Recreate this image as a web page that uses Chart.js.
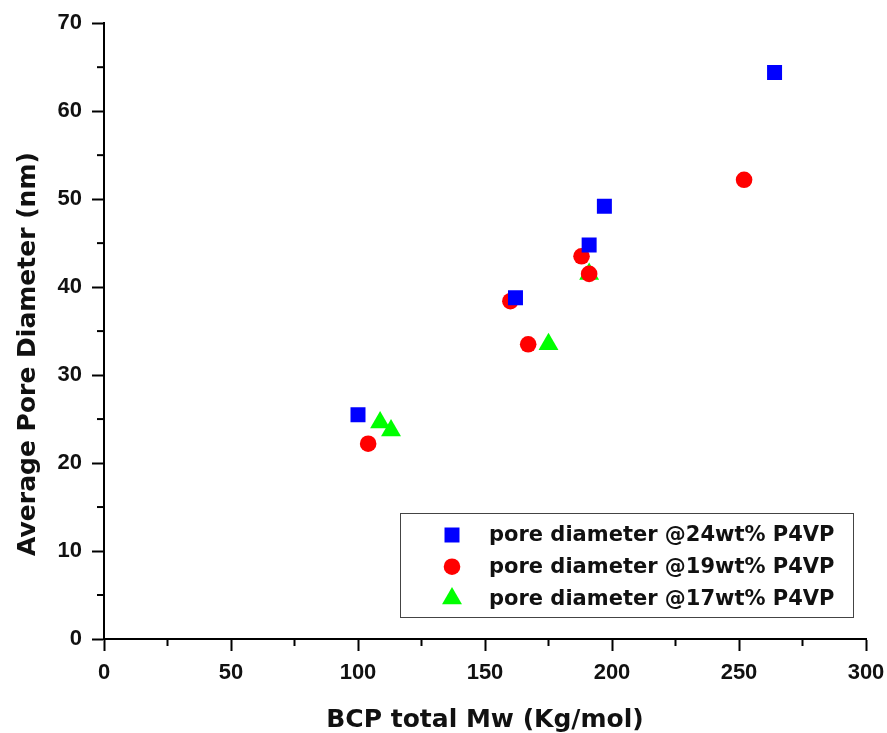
<!DOCTYPE html>
<html>
<head>
<meta charset="UTF-8">
<title>Average pore diameter vs BCP total Mw</title>
<script src="https://cdn.jsdelivr.net/npm/chart.js"></script>
<style>
  body { margin: 0; background: #fff; }
</style>
</head>
<body>
<canvas id="myChart" width="887" height="733"></canvas>
<script>
// data
var labels = ['pore diameter @24wt% P4VP', 'pore diameter @19wt% P4VP', 'pore diameter @17wt% P4VP'];
var mw24 = [100, 162, 191, 197, 264];
var pore24 = [25.5, 38.8, 44.8, 49.2, 64.4];
var mw19 = [104, 160, 167, 188, 191, 252];
var pore19 = [22.2, 38.4, 33.5, 43.5, 41.5, 52.2];
var mw17 = [108.7, 113, 175, 191];
var pore17 = [24.6, 23.7, 33.5, 41.5];
var xMinorTicks = [25, 75, 125, 175, 225, 275];
var yMinorTicks = [5, 15, 25, 35, 45, 55, 65];
var yTitle = 'Average Pore Diameter (nm)';

function toPoints(xs, ys) {
    var pts = [];
    for (let i = 0; i < xs.length; i++) pts.push({x: xs[i], y: ys[i]});
    return pts;
}

var tickFont = '"Liberation Sans", Arial, sans-serif';
var wideFont = '"DejaVu Sans", Verdana, sans-serif';

// minor ticks, y title and legend box inside the plot
var extras = {
    id: 'extras',
    afterDraw(chart) {
        let ctx = chart.ctx;
        let xs = chart.scales.x, ys = chart.scales.y;
        ctx.save();
        ctx.strokeStyle = '#000';
        ctx.lineWidth = 2;
        xMinorTicks.forEach(function(v) {
            let px = xs.getPixelForValue(v);
            ctx.beginPath();
            ctx.moveTo(px, ys.bottom);
            ctx.lineTo(px, ys.bottom + 7);
            ctx.stroke();
        });
        yMinorTicks.forEach(function(v) {
            let py = ys.getPixelForValue(v);
            ctx.beginPath();
            ctx.moveTo(xs.left, py);
            ctx.lineTo(xs.left - 7, py);
            ctx.stroke();
        });

        // y title (sits a bit below the axis middle in the original)
        ctx.save();
        ctx.translate(35, 354);
        ctx.rotate(-Math.PI / 2);
        ctx.font = 'bold 25px ' + wideFont;
        ctx.fillStyle = '#111';
        ctx.textAlign = 'center';
        ctx.textBaseline = 'alphabetic';
        ctx.fillText(yTitle, 0, 0);
        ctx.restore();

        // legend
        let bx = 400, by = 513, bw = 453, bh = 104;
        ctx.lineWidth = 1;
        ctx.strokeStyle = '#444';
        ctx.strokeRect(bx + 0.5, by + 0.5, bw, bh);
        ctx.font = 'bold 21px ' + wideFont;
        ctx.textBaseline = 'middle';
        ctx.fillStyle = '#111';
        chart.data.datasets.forEach(function(ds, i) {
            let cy = 535 + i * 31.7;
            ctx.save();
            ctx.fillStyle = ds.backgroundColor;
            ctx.strokeStyle = ds.backgroundColor;
            ctx.lineWidth = 0.01;
            Chart.helpers.drawPoint(ctx, {pointStyle: ds.pointStyle, radius: ds.pointRadius, rotation: 0, borderWidth: 0}, 452, cy);
            ctx.restore();
            ctx.fillText(ds.label, 489, cy + 1);
        });
        ctx.restore();
    }
};

var ctx = document.getElementById('myChart').getContext('2d');
var chart = new Chart(ctx, {
    type: 'scatter',
    data: {
        datasets: [{
            label: labels[0],
            data: toPoints(mw24, pore24),
            pointStyle: 'rect',
            pointRadius: 10.6,
            backgroundColor: '#0000ff',
            borderColor: '#0000ff',
            borderWidth: 0
        }, {
            label: labels[1],
            data: toPoints(mw19, pore19),
            pointStyle: 'circle',
            pointRadius: 8.3,
            backgroundColor: '#ff0000',
            borderColor: '#ff0000',
            borderWidth: 0
        }, {
            label: labels[2],
            data: toPoints(mw17, pore17),
            pointStyle: 'triangle',
            pointRadius: 11.5,
            backgroundColor: '#00ff00',
            borderColor: '#00ff00',
            borderWidth: 0
        }]
    },
    options: {
        responsive: false,
        animation: false,
        layout: { padding: { top: 16, right: 21, left: 0, bottom: 0 } },
        plugins: {
            legend: { display: false },
            tooltip: { enabled: false }
        },
        scales: {
            x: {
                type: 'linear',
                min: 0, max: 300,
                ticks: { stepSize: 50, color: '#111', padding: 9, font: { family: tickFont, size: 22, weight: 'bold' } },
                grid: { drawOnChartArea: false, tickLength: 12, tickWidth: 2, tickColor: '#000' },
                border: { color: '#000', width: 2 },
                title: { display: true, text: 'BCP total Mw (Kg/mol)', color: '#111', padding: 0,
                         font: { family: wideFont, size: 25, weight: 'bold', lineHeight: 1 } },
                afterFit: function(scale) { scale.height = 94; scale.paddingRight = 0; scale.paddingLeft = 0; }
            },
            y: {
                type: 'linear',
                min: 0, max: 70,
                ticks: { stepSize: 10, color: '#111', padding: 10, font: { family: tickFont, size: 22, weight: 'bold' } },
                grid: { drawOnChartArea: false, tickLength: 12, tickWidth: 2, tickColor: '#000' },
                border: { color: '#000', width: 2 },
                title: { display: false },
                afterFit: function(scale) { scale.width = 104; }
            }
        }
    },
    plugins: [extras]
});
</script>
</body>
</html>
